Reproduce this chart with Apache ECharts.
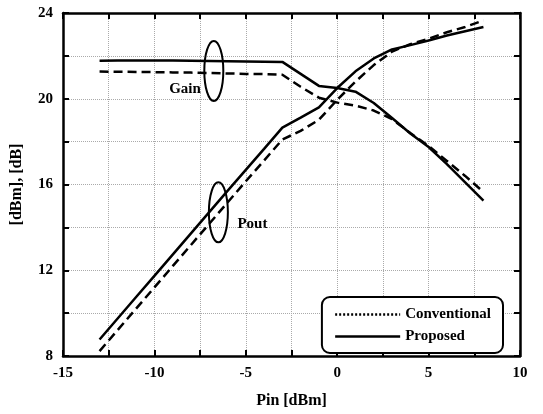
<!DOCTYPE html>
<html>
<head>
<meta charset="utf-8">
<script src="https://cdn.jsdelivr.net/npm/echarts@6/dist/echarts.min.js"></script>
<style>
  html, body { margin: 0; padding: 0; background: #fff; }
  #chart { width: 543px; height: 414px; }
</style>
</head>
<body>
<div id="chart"></div>
<script>
// Pin 轴 (dBm)
const pin = [-13, -12, -11, -10, -9, -8, -7, -6, -5, -4, -3, -2, -1, 0, 1, 2, 3, 4, 5, 6, 7, 8]
// Gain 曲线
const gainConventional = [21.27, 21.26, 21.25, 21.24, 21.23, 21.22, 21.2, 21.18, 21.16, 21.15, 21.12, 20.56, 20.05, 19.82, 19.68, 19.45, 19.05, 18.4, 17.8, 17.1, 16.4, 15.65]
const gainProposed = [21.77, 21.78, 21.79, 21.79, 21.78, 21.77, 21.76, 21.75, 21.74, 21.73, 21.72, 21.16, 20.6, 20.5, 20.33, 19.8, 19.1, 18.38, 17.75, 16.95, 16.1, 15.25]
// Pout 曲线
const poutConventional = [8.23, 9.22, 10.21, 11.2, 12.19, 13.18, 14.17, 15.16, 16.15, 17.12, 18.1, 18.5, 19.02, 19.95, 20.8, 21.57, 22.2, 22.55, 22.8, 23.1, 23.35, 23.65]
const poutProposed = [8.77, 9.76, 10.75, 11.74, 12.73, 13.72, 14.71, 15.7, 16.68, 17.66, 18.65, 19.12, 19.6, 20.5, 21.28, 21.88, 22.3, 22.5, 22.72, 22.95, 23.15, 23.35]
// 椭圆标注 [Pin, 值, 文字]
const notes = [[-6.75, 21.3, 'Gain'], [-6.5, 14.7, 'Pout']]

const font = 'Liberation Serif'
const pair = (ys) => pin.map((x, i) => [x, ys[i]])

const chart = echarts.init(document.getElementById('chart'))

const baseX = {
  type: 'value',
  min: -15,
  max: 10,
  interval: 2.5,
  axisLine: { show: true, onZero: false, lineStyle: { color: '#000', width: 2.5 } },
  axisTick: { show: true, inside: true, length: 6, lineStyle: { color: '#000', width: 2 } },
  splitLine: { show: false }
}
const baseY = {
  type: 'value',
  min: 8,
  max: 24,
  interval: 2,
  axisLine: { show: true, onZero: false, lineStyle: { color: '#000', width: 2.5 } },
  axisTick: { show: true, inside: true, length: 6, lineStyle: { color: '#000', width: 2 } },
  splitLine: { show: false }
}

const solid = { color: '#000', width: 2.5, type: 'solid' }
const dashed = { color: '#000', width: 2.5, type: [9, 5] }

const option = {
  backgroundColor: '#fff',
  animation: false,
  grid: { left: 63, right: 23, top: 13, bottom: 49 },
  xAxis: [
    Object.assign({}, baseX, {
      position: 'bottom',
      name: 'Pin [dBm]',
      nameLocation: 'middle',
      nameGap: 37,
      nameTextStyle: { fontFamily: font, fontWeight: 'bold', fontSize: 16, color: '#000' },
      axisLabel: {
        margin: 10,
        fontFamily: font, fontWeight: 'bold', fontSize: 15, color: '#000',
        formatter: (v) => (v % 5 === 0 ? String(v) : '')
      },
      splitLine: { show: true, lineStyle: { color: '#aaa', type: 'dotted', width: 1 } }
    }),
    Object.assign({}, baseX, { position: 'top', axisLabel: { show: false } })
  ],
  yAxis: [
    Object.assign({}, baseY, {
      position: 'left',
      name: '[dBm], [dB]',
      nameLocation: 'middle',
      nameGap: 38,
      nameRotate: 90,
      nameTextStyle: { fontFamily: font, fontWeight: 'bold', fontSize: 16, color: '#000' },
      axisLabel: {
        margin: 10,
        fontFamily: font, fontWeight: 'bold', fontSize: 15, color: '#000',
        formatter: (v) => (v % 4 === 0 ? String(v) : '')
      },
      splitLine: { show: true, lineStyle: { color: '#aaa', type: 'dotted', width: 1 } }
    }),
    Object.assign({}, baseY, { position: 'right', axisLabel: { show: false } })
  ],
  legend: {
    orient: 'vertical',
    right: 40,
    bottom: 61,
    padding: [10, 12, 9, 12],
    itemWidth: 65,
    itemHeight: 14,
    itemGap: 7,
    backgroundColor: '#fff',
    borderColor: '#000',
    borderWidth: 2,
    borderRadius: 8,
    textStyle: { fontFamily: font, fontWeight: 'bold', fontSize: 15, color: '#000' },
    data: [
      { name: 'Conventional', itemStyle: { opacity: 0 }, lineStyle: { type: [2, 2], width: 2.5 } },
      { name: 'Proposed', itemStyle: { opacity: 0 }, lineStyle: { type: 'solid', width: 2.5 } }
    ]
  },
  series: [
    { name: 'Conventional', type: 'line', data: pair(gainConventional), symbol: 'none', lineStyle: dashed, itemStyle: { color: '#000' } },
    { name: 'Proposed', type: 'line', data: pair(gainProposed), symbol: 'none', lineStyle: solid, itemStyle: { color: '#000' } },
    { name: 'Conventional', type: 'line', data: pair(poutConventional), symbol: 'none', lineStyle: dashed, itemStyle: { color: '#000' } },
    { name: 'Proposed', type: 'line', data: pair(poutProposed), symbol: 'none', lineStyle: solid, itemStyle: { color: '#000' } },
    {
      // 椭圆和文字标注
      type: 'custom',
      silent: true,
      z: 5,
      data: notes,
      renderItem: (params, api) => {
        const c = api.coord([api.value(0), api.value(1)])
        const isGain = params.dataIndex === 0
        return {
          type: 'group',
          children: [
            {
              type: 'ellipse',
              shape: { cx: c[0], cy: c[1], rx: 9.5, ry: 30 },
              style: { fill: 'none', stroke: '#000', lineWidth: 2 }
            },
            {
              type: 'text',
              x: isGain ? c[0] - 13 : c[0] + 19,
              y: isGain ? c[1] + 18 : c[1] + 12,
              style: {
                text: notes[params.dataIndex][2],
                align: isGain ? 'right' : 'left',
                verticalAlign: 'middle',
                fontFamily: font, fontWeight: 'bold', fontSize: 15, fill: '#000'
              }
            }
          ]
        }
      }
    }
  ]
}

chart.setOption(option)
</script>
</body>
</html>
